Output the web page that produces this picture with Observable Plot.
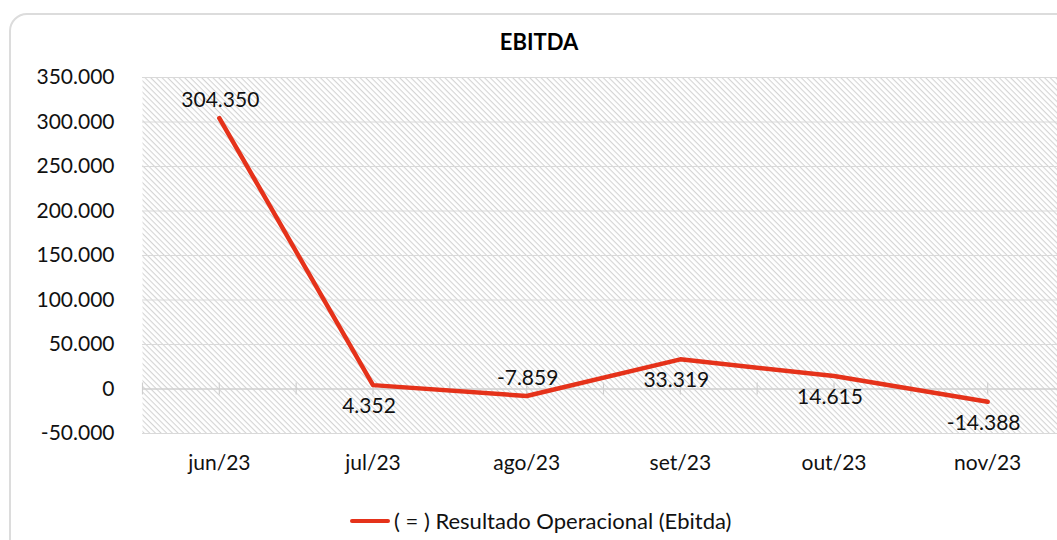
<!DOCTYPE html>
<html><head><meta charset="utf-8">
<script src="https://cdn.jsdelivr.net/npm/d3@7"></script>
<script src="https://cdn.jsdelivr.net/npm/@observablehq/plot@0.6"></script>
<style>
body{margin:0;background:#fff;font-family:Lato,"Noto Sans",sans-serif;overflow:hidden}
#wrap{position:relative;width:1057px;height:540px;overflow:hidden;background:#fff}
#border{position:absolute;left:9px;top:13px;width:1100px;height:600px;border:2px solid #dcdcdc;border-radius:18px;box-sizing:border-box}
#title{position:absolute;left:0;top:26px;width:1078px;text-align:center;font-weight:bold;font-size:22px;line-height:32px;color:#000}
#chart{position:absolute;left:0;top:62px}
#legend{position:absolute;left:0;top:506px;width:1057px;height:30px}
#legend .sw{position:absolute;left:350px;top:13px;width:40px;height:4px;background:#e5321a;border-radius:2px}
#legend .tx{position:absolute;left:394px;top:0;font-size:22px;line-height:30px;color:#111;white-space:nowrap}
</style></head>
<body>
<div id="wrap">
  <div id="border"></div>
  <div id="title">EBITDA</div>
  <div id="chart"></div>
  <div id="legend"><div class="sw"></div><div class="tx">( = ) Resultado Operacional (Ebitda)</div></div>
</div>
<script>
const months = ["jun/23", "jul/23", "ago/23", "set/23", "out/23", "nov/23"];
const values = [304350, 4352, -7859, 33319, 14615, -14388];
const labelAbove = [true, false, true, false, false, false];
const yTicks = [-50000, 0, 50000, 100000, 150000, 200000, 250000, 300000, 350000];
const xTickMarks = [-0.5, 0, 0.5, 1, 1.5, 2, 2.5, 3, 3.5, 4, 4.5, 5, 5.5];
const monthIndex = [0, 1, 2, 3, 4, 5];

const data = months.map((m, i) => ({i, month: m, value: values[i], above: labelAbove[i]}));
const fmt = d => d3.format(",")(d).replace(/,/g, ".").replace(/\u2212/g, "-");
const red = "#e5321a";
const fs = 21;

const svg = Plot.plot({
  width: 1057,
  height: 428,
  marginTop: 15,
  marginBottom: 57,
  marginLeft: 142,
  marginRight: 0,
  style: {fontFamily: "Lato, 'Noto Sans', sans-serif", fontSize: fs + "px", color: "#111", background: "transparent", overflow: "hidden"},
  x: {type: "linear", domain: [-0.5, 5.5], range: [142, 1064], label: null},
  y: {domain: [-50000, 350000], label: null},
  marks: [
    Plot.frame({fill: "white", stroke: null}),
    Plot.ruleY(yTicks.filter(d => d !== 0), {stroke: "#d9d9d9", strokeWidth: 1.2}),
    Plot.ruleY([0], {stroke: "#cfcfcf", strokeWidth: 1.6}),
    Plot.ruleX(xTickMarks, {y1: -6750, y2: 6750, stroke: "#cfcfcf", strokeWidth: 1.2}),
    Plot.axisY(yTicks, {tickSize: 0, tickPadding: 28, tickFormat: fmt, fontSize: fs, label: null}),
    Plot.axisX(monthIndex, {tickSize: 0, tickPadding: 22, tickFormat: i => months[i], fontSize: fs, label: null}),
    Plot.line(data, {x: "i", y: "value", stroke: red, strokeWidth: 4.5}),
    Plot.text(data.filter(d => d.above), {x: "i", y: "value", text: d => fmt(d.value), dy: -18, dx: 1, fontSize: fs, fill: "#111"}),
    Plot.text(data.filter(d => !d.above), {x: "i", y: "value", text: d => fmt(d.value), dy: 21, dx: -4, fontSize: fs, fill: "#111"})
  ]
});

// hatch pattern background for the plot area
const s = d3.select(svg);
const defs = s.insert("defs", ":first-child");
const pat = defs.append("pattern").attr("id", "hatch").attr("patternUnits", "userSpaceOnUse")
  .attr("width", 4).attr("height", 4).attr("patternTransform", "rotate(45)");
pat.append("rect").attr("width", 4).attr("height", 4).attr("fill", "white");
pat.append("rect").attr("width", 4).attr("height", 1.1).attr("fill", "#d4d4d4");
let fr = svg.querySelector('[aria-label="frame"]');
if (fr && fr.tagName.toLowerCase() !== "rect") fr = fr.querySelector("rect");
if (fr) fr.setAttribute("fill", "url(#hatch)");

document.getElementById("chart").appendChild(svg);
</script>
</body></html>
